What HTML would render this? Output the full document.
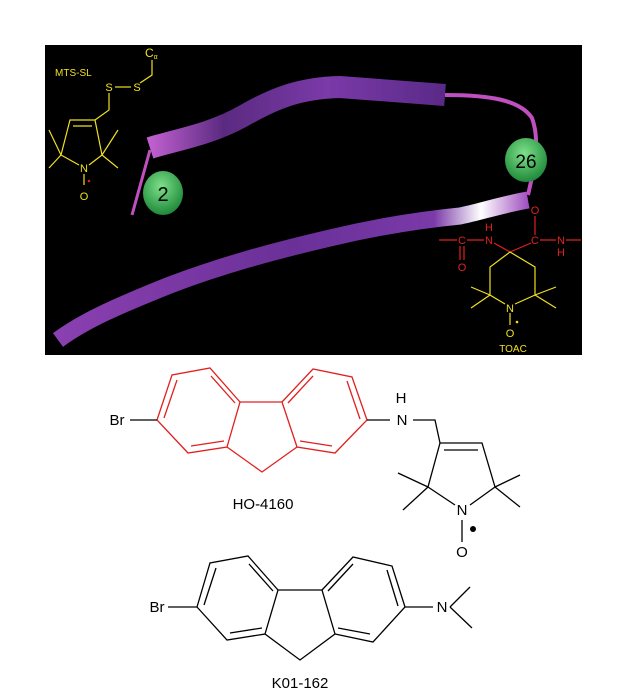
<!DOCTYPE html>
<html><head><meta charset="utf-8"><style>
html,body{margin:0;padding:0;background:#fff;}
svg{display:block;font-family:"Liberation Sans",sans-serif;}
</style></head><body>
<svg width="619" height="700" viewBox="0 0 619 700" xmlns="http://www.w3.org/2000/svg">
<defs>
<linearGradient id="gu" x1="0" y1="0" x2="1" y2="0">
<stop offset="0" stop-color="#c060d0"/><stop offset="0.25" stop-color="#5a2a80"/><stop offset="0.6" stop-color="#7a3aa8"/><stop offset="1" stop-color="#5a2a88"/></linearGradient>
<linearGradient id="gl" x1="0" y1="0" x2="1" y2="0">
<stop offset="0" stop-color="#8a40b0"/><stop offset="0.5" stop-color="#6a3098"/><stop offset="0.8" stop-color="#7a3aa8"/><stop offset="0.9" stop-color="#ffffff"/><stop offset="1" stop-color="#a050c0"/></linearGradient>
<radialGradient id="gg" cx="0.45" cy="0.35" r="0.65"><stop offset="0" stop-color="#7ee08a"/><stop offset="1" stop-color="#1f8a3a"/></radialGradient>
</defs>
<rect x="45" y="45" width="537" height="310" fill="#000"/>
<!-- ribbons -->
<path d="M150,148 C175,140 210,135 245,115 C275,98 300,88 340,87 L445,95" fill="none" stroke="url(#gu)" stroke-width="22"/>
<path d="M150,150 L132,215" stroke="#c050c0" stroke-width="3" fill="none"/>
<path d="M445,95 C490,95 520,100 532,118 C540,140 535,165 528,195" stroke="#c050c0" stroke-width="4" fill="none"/>
<path d="M528,200 C500,205 480,212 460,216 C420,220 380,226 330,238 C270,252 220,266 170,285 C120,305 85,320 58,340" fill="none" stroke="url(#gl)" stroke-width="17"/>
<!-- circles -->
<ellipse cx="163" cy="193" rx="20" ry="22" fill="url(#gg)"/>
<text x="163" y="201" font-size="20" text-anchor="middle" fill="#000">2</text>
<ellipse cx="526" cy="160" rx="21" ry="22" fill="url(#gg)"/>
<text x="526" y="168" font-size="19" text-anchor="middle" fill="#000">26</text>
<!-- MTS-SL -->
<g stroke="#f0e020" stroke-width="1.2" fill="none">
<path d="M152,60 L152,75 L140,83"/>
<path d="M115,87 L131,87"/>
<path d="M109,93 L109,110 L95,120"/>
<path d="M95,120 L70,120 L61,155 L79,165 M89,165 L102,155 L95,120"/>
<path d="M73,126 L92,126"/>
<path d="M61,155 L49,130 M61,155 L49,168 M102,155 L118,130 M102,155 L118,168"/>
<path d="M84,174 L84,185"/>
</g>
<g fill="#f0e020" font-size="11">
<text x="55" y="76" font-size="10">MTS-SL</text>
<text x="145" y="57" font-size="12">C<tspan font-size="7" dy="2">α</tspan></text>
<text x="109" y="91" text-anchor="middle">S</text>
<text x="137" y="91" text-anchor="middle">S</text>
<text x="84" y="172" text-anchor="middle">N</text>
<text x="84" y="200" text-anchor="middle">O</text>
</g>
<circle cx="89" cy="181" r="1.3" fill="#e02020"/>
<!-- TOAC -->
<g stroke="#e02020" stroke-width="1.2" fill="none">
<path d="M439,240 L457,240 M467,240 L484,240 M494,243 L510,252 L531,243 M540,240 L556,240 M566,240 L581,240"/>
<path d="M460,246 L460,260 M464,246 L464,260 M535,216 L535,235"/>
</g>
<g fill="#e02020" font-size="11" text-anchor="middle">
<text x="462" y="244">C</text><text x="489" y="244">N</text><text x="489" y="231">H</text>
<text x="462" y="271">O</text><text x="535" y="244">C</text><text x="535" y="214">O</text>
<text x="561" y="244">N</text><text x="561" y="256">H</text>
</g>
<g stroke="#f0e020" stroke-width="1.2" fill="none">
<path d="M510,252 L490,267 L490,295 L505,304 M515,304 L535,295 L535,267 L510,252"/>
<path d="M490,295 L471,287 M490,295 L471,308 M535,295 L556,287 M535,295 L556,308 M510,313 L510,325"/>
</g>
<g fill="#f0e020" font-size="11" text-anchor="middle">
<text x="510" y="312">N</text><text x="510" y="337">O</text><text x="513" y="352" font-size="10">TOAC</text>
</g>
<circle cx="517" cy="322" r="1.3" fill="#f0e020"/>
<!-- HO-4160 -->
<g stroke="#e02020" stroke-width="1.3" fill="none">
<path d="M157,420 L172,375 L210,368 L240,402 L227,447 L188,453 Z"/>
<path d="M282,402 L313,369 L352,377 L367,420 L335,453 L297,447 Z"/>
<path d="M240,402 L282,402 M227,447 L262,472 L297,447"/>
<path d="M164,418 L177,380 M211,376 L235,403 M191,446 L224,441 M288,403 L313,376 M347,381 L360,419 M300,441 L332,446"/>
</g>
<g stroke="#000" stroke-width="1.3" fill="none">
<path d="M130,420 L157,420 M367,420 L390,420 M413,420 L435,420 L440,443"/>
<path d="M440,443 L482,443 L495,487 L470,505 M455,505 L428,487 L440,443"/>
<path d="M444,450 L478,450"/>
<path d="M428,487 L398,473 M428,487 L403,510 M495,487 L520,475 M495,487 L520,507 M462,520 L462,542"/>
</g>
<g fill="#000" font-size="15" text-anchor="middle">
<text x="117" y="425">Br</text><text x="402" y="425">N</text><text x="401" y="403">H</text>
<text x="462" y="515">N</text><text x="462" y="557">O</text>
<text x="263" y="509">HO-4160</text>
</g>
<circle cx="473" cy="529" r="3" fill="#000"/>
<!-- K01-162 -->
<g stroke="#000" stroke-width="1.3" fill="none">
<path d="M197,607 L210,563 L248,556 L278,590 L265,634 L227,640 Z"/>
<path d="M322,590 L353,557 L392,566 L405,607 L373,642 L335,634 Z"/>
<path d="M278,590 L322,590 M265,634 L300,660 L335,634"/>
<path d="M204,605 L216,568 M249,564 L273,591 M230,633 L262,628 M328,591 L353,564 M387,570 L398,606 M338,628 L370,634"/>
<path d="M168,607 L197,607 M405,607 L433,607 M450,607 L470,587 M450,607 L472,628"/>
</g>
<g fill="#000" font-size="15" text-anchor="middle">
<text x="157" y="612">Br</text><text x="442" y="612">N</text>
<text x="300" y="688">K01-162</text>
</g>
</svg>
</body></html>
